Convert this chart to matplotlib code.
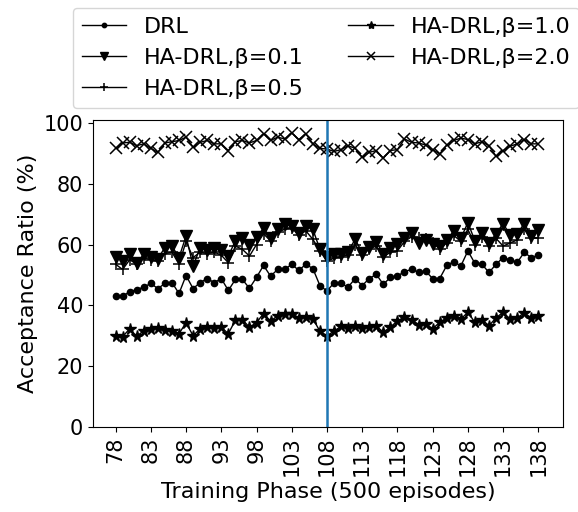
import numpy as np
import matplotlib.pyplot as plt

phases = np.arange(78, 139)
tick_phases = np.arange(78, 139, 5)
switch_phase = 108

drl = [43.2, 43.0, 44.5, 45.2, 46.0, 47.2, 45.5, 47.2, 47.5, 43.9, 49.8, 45.5, 47.5, 48.8, 47.5, 48.8,
       44.9, 48.5, 48.5, 45.6, 49.2, 53.1, 49.6, 51.8, 51.8, 53.5, 51.5, 53.5, 52.1, 46.5, 44.7,
       47.4, 47.2, 46.0, 48.8, 46.5, 48.8, 50.2, 46.9, 49.2, 49.6, 51.1, 51.8, 50.9, 51.3, 48.8,
       48.8, 53.1, 54.4, 52.9, 57.9, 53.8, 53.5, 50.8, 53.5, 55.7, 54.9, 54.1, 57.4, 55.7, 56.5]

ha_b01 = [55.9, 54.6, 57.0, 54.0, 56.8, 55.9, 55.4, 59.0, 59.5, 55.7, 62.8, 52.9, 59.0, 58.1, 58.7, 58.1,
          56.2, 61.2, 62.0, 59.8, 62.5, 65.3, 62.0, 65.0, 66.7, 66.1, 63.9, 66.1, 65.0, 58.4, 56.0,
          57.0, 57.0, 57.7, 61.7, 57.3, 59.2, 60.9, 57.0, 59.0, 60.3, 62.0, 63.9, 60.6, 61.4, 60.3,
          59.5, 61.4, 64.5, 62.0, 67.2, 61.2, 63.9, 60.6, 63.4, 66.9, 63.1, 63.4, 66.9, 62.8, 64.7]

ha_b05 = [53.5, 51.8, 55.0, 53.5, 55.5, 55.0, 54.5, 57.0, 57.5, 53.5, 61.0, 55.7, 57.5, 57.0, 57.5, 56.5,
          54.0, 59.5, 58.4, 56.2, 60.0, 63.5, 61.2, 64.0, 65.0, 65.5, 63.0, 64.5, 61.7, 57.9, 54.5,
          55.5, 56.0, 56.5, 60.0, 56.5, 58.5, 59.5, 55.8, 57.5, 57.9, 61.0, 62.5, 62.3, 61.9, 60.6,
          58.5, 60.5, 63.0, 61.0, 65.0, 60.0, 62.5, 59.5, 62.0, 59.5, 60.5, 61.5, 65.0, 62.0, 62.3]

ha_b10 = [29.8, 29.7, 32.3, 29.8, 31.7, 32.3, 32.7, 31.8, 31.5, 30.7, 34.3, 30.0, 32.3, 32.8, 32.7, 32.8,
          30.7, 35.1, 35.3, 32.8, 34.3, 37.3, 34.8, 36.6, 37.2, 37.2, 36.0, 36.1, 35.6, 31.5, 30.0,
          31.5, 33.1, 32.7, 33.1, 32.7, 32.9, 33.3, 31.1, 32.9, 34.8, 36.2, 35.3, 33.7, 34.0, 32.3,
          34.4, 35.9, 36.6, 35.5, 37.7, 34.4, 35.3, 33.3, 35.9, 37.7, 35.5, 35.9, 37.5, 35.9, 36.6]

ha_b20 = [91.6, 93.4, 93.6, 92.5, 93.1, 91.6, 90.3, 93.4, 93.8, 94.2, 95.3, 92.0, 93.6, 94.2, 93.1,
          93.1, 90.9, 93.8, 94.2, 93.4, 94.2, 96.4, 94.2, 95.3, 94.7, 96.7, 94.5, 96.4, 93.1, 91.6, 91.4,
          90.6, 91.2, 92.5, 91.6, 88.7, 90.3, 90.9, 88.4, 90.9, 91.2, 94.7, 93.6, 93.4, 92.7, 91.2, 89.8,
          92.7, 94.2, 95.0, 94.5, 93.1, 93.8, 92.5, 89.0, 90.9, 92.3, 93.1, 94.5, 93.1, 93.1]

plt.rcParams['font.size'] = 16
plt.rcParams['xtick.labelsize'] = 15
plt.rcParams['ytick.labelsize'] = 15

fig = plt.figure(figsize=(5.78, 5.12), dpi=100)
ax = fig.add_axes([0.161, 0.166, 0.813, 0.600])

ax.plot(phases, drl, color='black', lw=1, marker='o', ms=4.5, label='DRL')
ax.plot(phases, ha_b01, color='black', lw=1, marker='v', ms=8.5, label='HA-DRL,β=0.1')
ax.plot(phases, ha_b05, color='black', lw=1, marker='+', ms=9, mew=1.1, label='HA-DRL,β=0.5')
ax.plot(phases, ha_b10, color='black', lw=1, marker='*', ms=8.5, label='HA-DRL,β=1.0')
ax.plot(phases, ha_b20, color='black', lw=1, marker='x', ms=9, mew=1.1, label='HA-DRL,β=2.0')

ax.axvline(switch_phase, color='#1f77b4', lw=1.8)

ax.set_xticks(tick_phases)
ax.set_xticklabels([str(t) for t in tick_phases], rotation=90)
ax.set_ylim(0, 101)
ax.set_xlim(74.8, 141.5)
ax.set_xlabel('Training Phase (500 episodes)')
ax.set_ylabel('Acceptance Ratio (%)')

ax.legend(loc='lower left', bbox_to_anchor=(73 / 578, (512 - 108) / 512),
          bbox_transform=fig.transFigure, ncol=2, markerscale=0.7,
          columnspacing=2.0, handlelength=2.0, borderaxespad=0,
          labelspacing=0.5)

fig.savefig('out.png', dpi=100)
